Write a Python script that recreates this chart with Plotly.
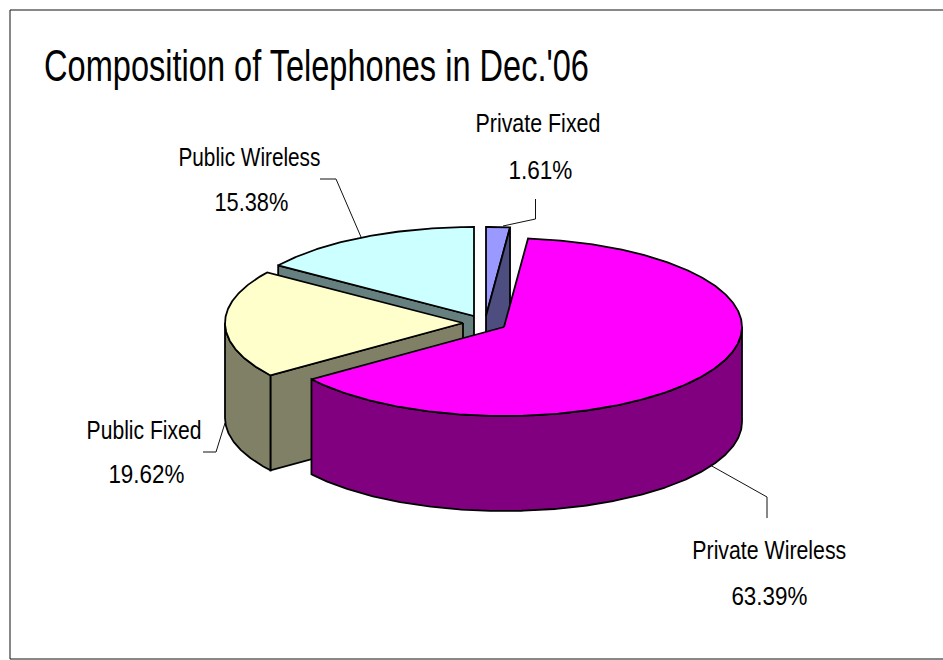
import json
import numpy as np
import plotly.graph_objects as go

categories = ["Private Fixed", "Private Wireless", "Public Fixed", "Public Wireless"]
shares = [1.61, 63.39, 19.62, 15.38]
top_colors = ["#9999FF", "#FF00FF", "#FFFFCC", "#CCFFFF"]
side_colors = ["#4D4D80", "#800080", "#808066", "#668080"]
title_text = "Composition of Telephones in Dec.'06"

# Slice geometry on the pixel-scaled axes
apex_x = [486, 504, 463, 474]
apex_y = [316, 327, 323, 316]
RX, RY, DEPTH = 238, 89, 95
W, H = 943, 660
FONT = "Liberation Sans"
INK = "#000000"

total = sum(shares)
edges = np.concatenate([[0], np.cumsum(shares)]) / total * 360


def rim(cx, cy, t0, t1, dz=0):
    t = np.radians(np.linspace(t0, t1, max(int(abs(t1 - t0) * 2), 2)))
    return cx + RX * np.sin(t), cy - RY * np.cos(t) + dz


def poly(fig, xs, ys, color):
    fig.add_trace(go.Scatter(x=xs, y=ys, mode="lines", fill="toself", fillcolor=color,
                             line=dict(color=INK, width=1.8), hoverinfo="skip", showlegend=False))


def leader(fig, xs, ys):
    fig.add_trace(go.Scatter(x=xs, y=ys, mode="lines", line=dict(color="#111111", width=1),
                             hoverinfo="skip", showlegend=False))


fig = go.Figure()

# painter's order: back slices first
for i in [3, 0, 2, 1]:
    cx, cy = apex_x[i], apex_y[i]
    t0, t1 = edges[i], edges[i + 1]
    rx, ry = rim(cx, cy, t0, t1)

    # visible cut faces
    if i == 3 or i == 2:
        poly(fig, [cx, rx[0], rx[0], cx, cx], [cy, ry[0], ry[0] + DEPTH, cy + DEPTH, cy], side_colors[i])

    # outer wall: only the part on the front half of the ellipse
    w0, w1 = max(t0, 90), min(t1, 270)
    if w1 > w0:
        ax, ay = rim(cx, cy, w0, w1)
        bx, by = rim(cx, cy, w0, w1, DEPTH)
        poly(fig, list(ax) + list(bx[::-1]) + [ax[0]], list(ay) + list(by[::-1]) + [ay[0]], side_colors[i])

    # top face
    poly(fig, [cx] + list(rx) + [cx], [cy] + list(ry) + [cy], top_colors[i])

    # the small slice's cut face sits over its top
    if i == 0:
        poly(fig, [cx, rx[-1], rx[-1], cx, cx], [cy, ry[-1], ry[-1] + DEPTH, cy + DEPTH, cy], side_colors[i])

# leader lines
leader(fig, [535.5, 535.5, 503], [199, 219, 226])
leader(fig, [767, 767, 710], [518, 497, 465])
leader(fig, [203, 216, 225], [452, 452, 423])
leader(fig, [320, 336, 361], [179, 179, 237])

labels = [
    (538, 123, categories[0], 125), (540, 170, f"{shares[0]:.2f}%", 64),
    (769, 550, categories[1], 154), (769, 596, f"{shares[1]:.2f}%", 76),
    (144, 430, categories[2], 115), (146, 474, f"{shares[2]:.2f}%", 76),
    (249, 157, categories[3], 142), (251, 202, f"{shares[3]:.2f}%", 74),
]
for x, y, t, _ in labels:
    fig.add_annotation(x=x, y=y, text=t, showarrow=False, xanchor="center", yanchor="middle",
                       font=dict(family=FONT, size=25, color="black"))

fig.add_annotation(x=42, y=65, text=title_text, showarrow=False, xanchor="left", yanchor="middle",
                   font=dict(family=FONT, size=44, color="black"))

fig.add_shape(type="rect", x0=10, y0=10, x1=960, y1=659, xref="x", yref="y",
              line=dict(color="#111111", width=1), fillcolor="rgba(0,0,0,0)")

fig.update_layout(
    width=W, height=H, margin=dict(l=0, r=0, t=0, b=0),
    paper_bgcolor="white", plot_bgcolor="white", showlegend=False,
    xaxis=dict(range=[0, W], visible=False, fixedrange=True),
    yaxis=dict(range=[H, 0], visible=False, fixedrange=True),
)

# squeeze the text horizontally to the reference's condensed lettering
targets = [lab[3] for lab in labels] + [545]
post = """
document.body.style.margin = '0';
document.body.style.overflow = 'hidden';
var targets = %s;
document.querySelectorAll('.annotation-text').forEach(function (el, i) {
  var b = el.getBBox(), s = targets[i] / b.width;
  var ax = i === targets.length - 1 ? b.x : b.x + b.width / 2;
  el.setAttribute('transform', 'matrix(' + s + ',0,0,1,' + ax * (1 - s) + ',0)');
});
""" % json.dumps(targets)
fig.write_html("out.html", config={"displayModeBar": False}, post_script=post)
